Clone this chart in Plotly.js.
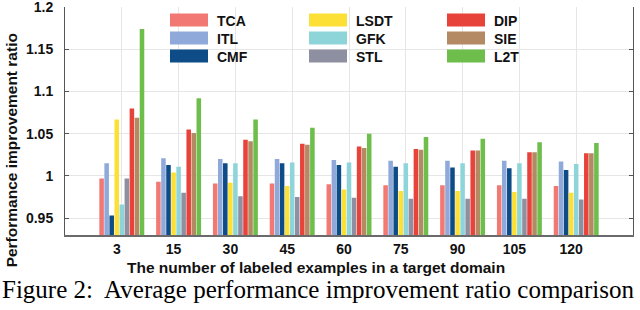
<!DOCTYPE html>
<html>
<head>
<meta charset="utf-8">
<script src="https://cdn.plot.ly/plotly-3.0.1.min.js"></script>
<style>html,body{margin:0;padding:0;background:#fff;}#chart{width:640px;height:310px;}</style>
</head>
<body>
<div id="chart"></div>
<script>
// ---- data ----
var categories = ['3','15','30','45','60','75','90','105','120'];
var seriesNames = ['TCA','ITL','CMF','LSDT','GFK','STL','DIP','SIE','L2T'];
var TCA  = [0.997,0.993,0.991,0.991,0.990,0.989,0.989,0.989,0.988];
var ITL  = [1.015,1.021,1.020,1.020,1.019,1.018,1.018,1.018,1.017];
var CMF  = [0.953,1.013,1.015,1.015,1.013,1.011,1.010,1.009,1.007];
var LSDT = [1.067,1.004,0.992,0.988,0.984,0.982,0.982,0.981,0.980];
var GFK  = [0.966,1.011,1.015,1.016,1.016,1.015,1.015,1.015,1.014];
var STL  = [0.997,0.980,0.976,0.975,0.974,0.973,0.973,0.973,0.972];
var DIP  = [1.080,1.055,1.043,1.038,1.035,1.032,1.030,1.028,1.027];
var SIE  = [1.069,1.051,1.041,1.037,1.033,1.031,1.030,1.028,1.027];
var L2T  = [1.174,1.092,1.067,1.057,1.050,1.046,1.044,1.040,1.039];
var yTickVals = [0.95,1,1.05,1.1,1.15,1.2];
var yTickText = ['0.95','1','1.05','1.1','1.15','1.2'];
var xTitle = 'The number of labeled examples in a target domain';
var yTitle = 'Performance improvement ratio';
var caption = 'Figure 2:\u00a0 Average performance improvement ratio comparison';

// ---- styling ----
var seriesValues = [TCA,ITL,CMF,LSDT,GFK,STL,DIP,SIE,L2T];
var colors = ['#F27973','#8FAADA','#0D4C86','#FDE035','#8ED5DA','#8F8FA2','#E8433B','#B38A64','#6DBE4A'];
var legendIds = ['legend','legend','legend','legend2','legend2','legend2','legend3','legend3','legend3'];

var L = 65, R = 7, T = 6, B = 75, FW = 640, FH = 310;
var PW = FW - L - R, PH = FH - T - B;
function px2x(px){ return (px - L) / PW; }
function px2y(py){ return 1 - (py - T) / PH; }

var sans = 'Arial, "Liberation Sans", sans-serif';
var serif = '"Times New Roman", "Liberation Serif", serif';

var traces = seriesNames.map(function(name, i){
  return {
    type: 'bar', name: name, x: categories, y: seriesValues[i],
    marker: {color: colors[i], line: {width: 0}},
    legend: legendIds[i], hoverinfo: 'x+y+name'
  };
});

function legendAt(px){
  return {
    x: px2x(px), y: px2y(4.5), xanchor: 'left', yanchor: 'top',
    bgcolor: 'rgba(0,0,0,0)', borderwidth: 0,
    font: {family: sans, size: 14, color: '#111', weight: 'bold'},
    itemwidth: 46, tracegroupgap: 0, traceorder: 'normal'
  };
}

var layout = {
  width: FW, height: FH,
  margin: {l: L, r: R, t: T, b: B, pad: 0},
  paper_bgcolor: '#fff', plot_bgcolor: '#fff',
  barmode: 'group', bargap: 0.2, bargroupgap: 0.1,
  font: {family: sans, color: '#111'},
  showlegend: true,
  legend: legendAt(161),
  legend2: legendAt(300),
  legend3: legendAt(438),
  xaxis: {
    type: 'category', range: [-1, 9],
    showgrid: true, gridcolor: '#e6e6e6', gridwidth: 1,
    showline: true, linecolor: '#6a6a6a', linewidth: 2, mirror: false,
    ticks: '', layer: 'below traces',
    tickfont: {family: sans, size: 14, color: '#111', weight: 'bold'},
    ticklabelshift: -5, ticklabelstandoff: 0,
    fixedrange: true
  },
  xaxis2: {
    type: 'linear', overlaying: 'x', side: 'top', range: [-1, 9],
    tickvals: [0,1,2,3,4,5,6,7,8], showticklabels: false,
    showgrid: false, zeroline: false,
    showline: true, linecolor: '#555', linewidth: 1,
    ticks: 'inside', ticklen: 4, tickcolor: '#555', tickwidth: 1,
    fixedrange: true
  },
  yaxis: {
    range: [0.93, 1.2002], tickvals: yTickVals, ticktext: yTickText,
    showgrid: true, gridcolor: '#e6e6e6', gridwidth: 1, zeroline: false,
    showline: true, linecolor: '#555', linewidth: 1, mirror: 'ticks',
    ticks: 'inside', ticklen: 4, tickcolor: '#555',
    tickfont: {family: sans, size: 14, color: '#111', weight: 'bold'},
    ticklabelstandoff: 8, ticklabeloverflow: 'allow',
    fixedrange: true
  },
  annotations: [
    {text: yTitle, xref: 'paper', yref: 'paper', x: px2x(11), y: px2y(150),
     xanchor: 'center', yanchor: 'middle', textangle: -90, showarrow: false,
     font: {family: sans, size: 15.5, color: '#111', weight: 'bold'}},
    {text: xTitle, xref: 'paper', yref: 'paper', x: px2x(316), y: px2y(268),
     xanchor: 'center', yanchor: 'middle', showarrow: false,
     font: {family: sans, size: 15.5, color: '#111', weight: 'bold'}},
    {text: caption, xref: 'paper', yref: 'paper', x: px2x(0), y: px2y(290),
     xanchor: 'left', yanchor: 'middle', showarrow: false,
     font: {family: serif, size: 25, color: '#000'}}
  ]
};

var gd = document.getElementById('chart');

function patchLegend(){
  // wider legend swatches and tighter rows, as in the reference
  var paths = gd.querySelectorAll('g.traces path');
  paths.forEach(function(p){
    if(p.getAttribute('d') !== 'M19,6.5H-19V-6.5H19Z') p.setAttribute('d', 'M19,6.5H-19V-6.5H19Z');
  });
  ['legend','legend2','legend3'].forEach(function(id){
    var g = gd.querySelector('g.' + id);
    if(!g || g.getAttribute('data-patched')) return;
    var items = g.querySelectorAll('g.traces');
    var y0 = null;
    items.forEach(function(it, i){
      var tr = it.getAttribute('transform') || '';
      var m = tr.match(/translate\(\s*([-\d.e]+)[ ,]+([-\d.e]+)\s*\)/);
      if(!m) return;
      var x = parseFloat(m[1]), y = parseFloat(m[2]);
      if(y0 === null) y0 = y;
      it.setAttribute('transform', 'translate(' + x + ',' + (y0 + i * 18) + ')');
    });
    g.setAttribute('data-patched', '1');
  });
}

Plotly.newPlot(gd, traces, layout, {staticPlot: true, displayModeBar: false}).then(function(){
  patchLegend();
  setTimeout(patchLegend, 0);
  setTimeout(patchLegend, 100);
});
gd.on && gd.on('plotly_afterplot', patchLegend);
</script>
</body>
</html>
